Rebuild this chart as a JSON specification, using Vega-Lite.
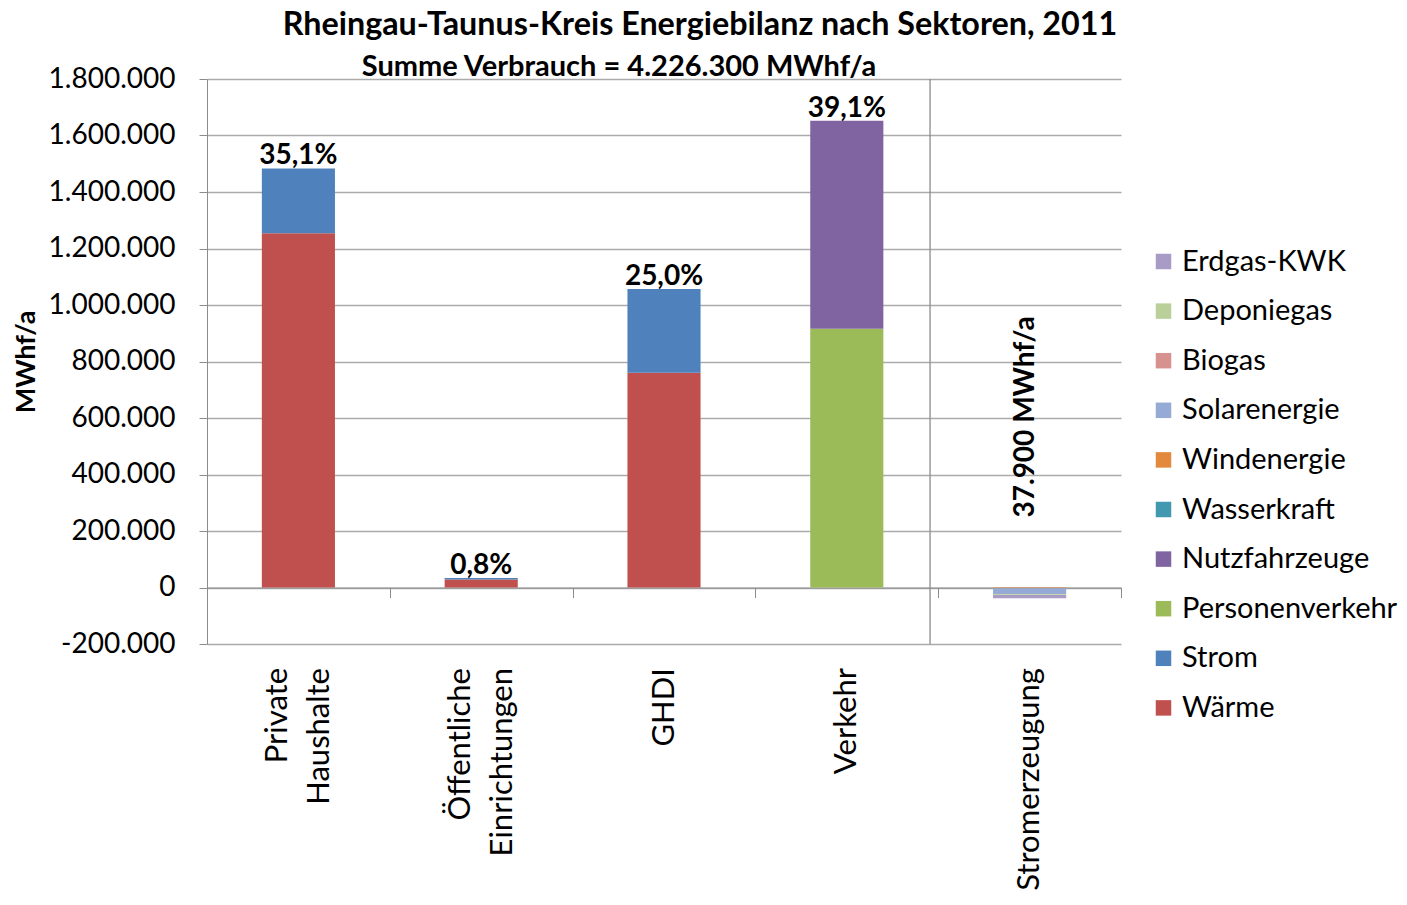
{
  "$schema": "https://vega.github.io/schema/vega-lite/v6.json",
  "width": 914,
  "height": 565,
  "autosize": {"type": "none"},
  "padding": {"left": 207, "top": 79, "right": 286, "bottom": 261},
  "background": "white",
  "config": {
    "font": "Lato",
    "view": {"stroke": null},
    "locale": {"number": {"decimal": ",", "thousands": ".", "grouping": [3], "currency": ["", " €"], "minus": "-"}}
  },
  "title": {
    "text": "Rheingau-Taunus-Kreis Energiebilanz nach Sektoren, 2011",
    "anchor": "middle",
    "dx": 36,
    "fontSize": 32.3,
    "fontWeight": "bold",
    "font": "Lato",
    "color": "black",
    "offset": 12
  },
  "datasets": {
    "energie": [
      {"sektor": "Private Haushalte", "art": "Wärme", "nr": 1, "wert": 1254000},
      {"sektor": "Private Haushalte", "art": "Strom", "nr": 2, "wert": 229400},
      {"sektor": "Öffentliche Einrichtungen", "art": "Wärme", "nr": 1, "wert": 28500},
      {"sektor": "Öffentliche Einrichtungen", "art": "Strom", "nr": 2, "wert": 5300},
      {"sektor": "GHDI", "art": "Wärme", "nr": 1, "wert": 760000},
      {"sektor": "GHDI", "art": "Strom", "nr": 2, "wert": 296600},
      {"sektor": "Verkehr", "art": "Personenverkehr", "nr": 3, "wert": 916000},
      {"sektor": "Verkehr", "art": "Nutzfahrzeuge", "nr": 4, "wert": 736500},
      {"sektor": "Stromerzeugung", "art": "Wasserkraft", "nr": 5, "wert": -300},
      {"sektor": "Stromerzeugung", "art": "Windenergie", "nr": 6, "wert": -2500},
      {"sektor": "Stromerzeugung", "art": "Solarenergie", "nr": 7, "wert": -20500},
      {"sektor": "Stromerzeugung", "art": "Biogas", "nr": 8, "wert": -700},
      {"sektor": "Stromerzeugung", "art": "Deponiegas", "nr": 9, "wert": -2400},
      {"sektor": "Stromerzeugung", "art": "Erdgas-KWK", "nr": 10, "wert": -11500}
    ],
    "anteile": [
      {"sektor": "Private Haushalte", "summe": 1483400, "text": "35,1%"},
      {"sektor": "Öffentliche Einrichtungen", "summe": 33800, "text": "0,8%"},
      {"sektor": "GHDI", "summe": 1056600, "text": "25,0%"},
      {"sektor": "Verkehr", "summe": 1652500, "text": "39,1%"}
    ],
    "erzeugung": [
      {"sektor": "Stromerzeugung", "summe": 0, "text": "37.900 MWhf/a"}
    ],
    "untertitel": [
      {"sektor": "GHDI", "summe": 1800000, "text": "Summe Verbrauch = 4.226.300 MWhf/a"}
    ],
    "trenner": [
      {"sektor": "Stromerzeugung"}
    ]
  },
  "encoding": {
    "x": {
      "field": "sektor",
      "type": "nominal",
      "scale": {"domain": ["Private Haushalte", "Öffentliche Einrichtungen", "GHDI", "Verkehr", "Stromerzeugung"], "paddingInner": 0.6, "paddingOuter": 0.3},
      "axis": {
        "title": null,
        "offset": -56.5,
        "labelAngle": 270,
        "labelExpr": "split(datum.value, ' ')",
        "labelLineHeight": 42,
        "labelFontSize": 31,
        "labelColor": "black",
        "labelPadding": 70,
        "labelLimit": 400,
        "tickOffset": 91.4,
        "labelOffset": {"condition": {"test": "indexof(datum.value, ' ') > 0", "value": -112.4}, "value": -91.4},
        "tickSize": 10,
        "tickColor": "#8C8C8C",
        "domainColor": "#8C8C8C",
        "labelFont": "Lato"
      }
    }
  },
  "layer": [
    {
      "data": {"name": "energie"},
      "mark": {"type": "bar"},
      "encoding": {
        "y": {
          "field": "wert",
          "type": "quantitative",
          "stack": "zero",
          "scale": {"domain": [-200000, 1800000], "nice": false},
          "axis": {
            "title": "MWhf/a",
            "titleFontSize": 27,
            "titleFontWeight": "bold",
            "titleColor": "black",
            "titlePadding": 8,
            "values": [-200000, 0, 200000, 400000, 600000, 800000, 1000000, 1200000, 1400000, 1600000, 1800000],
            "format": ",d",
            "labelFontSize": 28,
            "labelColor": "black",
            "labelPadding": 24,
            "tickSize": 8,
            "tickColor": "#8C8C8C",
            "domainColor": "#8C8C8C",
            "gridColor": "#ABABAB",
            "gridWidth": 1.3
          }
        },
        "color": {
          "field": "art",
          "type": "nominal",
          "scale": {
            "domain": ["Erdgas-KWK", "Deponiegas", "Biogas", "Solarenergie", "Windenergie", "Wasserkraft", "Nutzfahrzeuge", "Personenverkehr", "Strom", "Wärme"],
            "range": ["#A89BC6", "#BAD09A", "#D7928F", "#95AAD4", "#E2893E", "#4198AF", "#8064A2", "#9BBB59", "#4F81BD", "#C0504D"]
          },
          "legend": {
            "title": null,
            "orient": "none",
            "legendX": 942,
            "legendY": 168,
            "padding": 0,
            "symbolType": "square",
            "symbolSize": 240,
            "symbolStrokeWidth": 0,
            "labelFontSize": 29,
            "labelColor": "black",
            "labelOffset": 4,
            "rowPadding": 19.6,
            "labelLimit": 300
          }
        },
        "order": {"field": "nr", "type": "quantitative"}
      }
    },
    {
      "data": {"name": "anteile"},
      "mark": {"type": "text", "fontSize": 28, "fontWeight": "bold", "baseline": "alphabetic", "dy": -4, "color": "black"},
      "encoding": {
        "y": {"field": "summe", "type": "quantitative"},
        "text": {"field": "text"}
      }
    },
    {
      "data": {"name": "erzeugung"},
      "mark": {"type": "text", "fontSize": 28, "fontWeight": "bold", "angle": 270, "align": "left", "baseline": "middle", "dx": 70, "xOffset": -4, "color": "black"},
      "encoding": {
        "y": {"field": "summe", "type": "quantitative"},
        "text": {"field": "text"}
      }
    },
    {
      "data": {"name": "untertitel"},
      "mark": {"type": "text", "fontSize": 29, "fontWeight": "bold", "baseline": "alphabetic", "dy": -3, "xOffset": -45, "color": "black"},
      "encoding": {
        "y": {"field": "summe", "type": "quantitative"},
        "text": {"field": "text"}
      }
    },
    {
      "data": {"name": "trenner"},
      "mark": {"type": "rule", "color": "#8C8C8C", "strokeWidth": 1.3, "xOffset": -63},
      "encoding": {
        "x": {"field": "sektor", "type": "nominal", "bandPosition": 0}
      }
    }
  ]
}
